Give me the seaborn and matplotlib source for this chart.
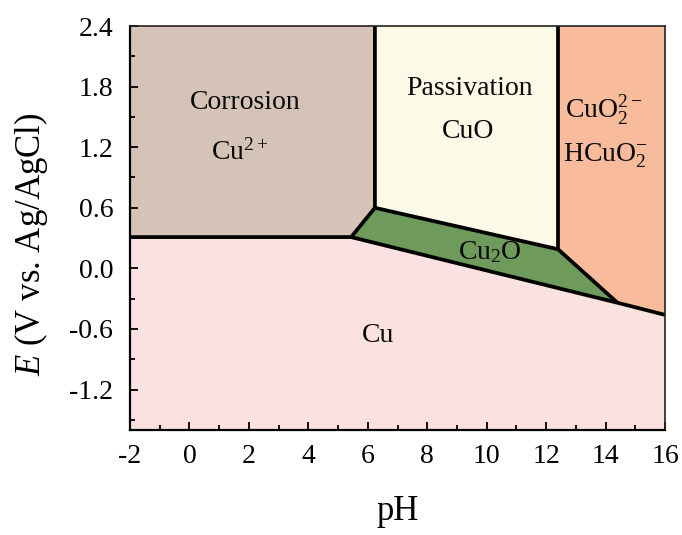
import numpy as np
import pandas as pd
import matplotlib
matplotlib.use("Agg")
import matplotlib.pyplot as plt
import seaborn as sns

sns.set_theme(style="ticks")
plt.rcParams['font.family'] = ['Liberation Serif', 'DejaVu Serif']
plt.rcParams['mathtext.fontset'] = 'custom'
plt.rcParams['mathtext.rm'] = 'Liberation Serif'
plt.rcParams['mathtext.it'] = 'Liberation Serif:italic'
plt.rcParams['mathtext.bf'] = 'Liberation Serif:bold'

# ---- data (pH, E) ----
corrosion_ph = [-2, 6.24, 6.24, 5.44, -2]
corrosion_e = [2.4, 2.4, 0.60, 0.31, 0.31]

passivation_ph = [6.24, 12.4, 12.4, 6.24]
passivation_e = [2.4, 2.4, 0.19, 0.60]

cuo2_ph = [12.4, 16, 16, 14.4, 12.4]
cuo2_e = [2.4, 2.4, -0.46, -0.34, 0.19]

cu2o_ph = [5.44, 6.24, 12.4, 14.4]
cu2o_e = [0.31, 0.60, 0.19, -0.34]

cu_ph = [-2, 16, 16, 14.4, 5.44, -2]
cu_e = [-1.6, -1.6, -0.46, -0.34, 0.31, 0.31]

# boundary lines
line_cu_ph = [-2, 5.44, 14.4, 16]
line_cu_e = [0.31, 0.31, -0.34, -0.46]
line_left_ph = [6.24, 6.24, 5.44]
line_left_e = [2.4, 0.60, 0.31]
line_cu2o_ph = [6.24, 12.4, 14.4]
line_cu2o_e = [0.60, 0.19, -0.34]
line_right_ph = [12.4, 12.4]
line_right_e = [2.4, 0.19]

labels = ["Corrosion", r"Cu$^{2+}$", "Passivation", "CuO",
          r"CuO$_2^{2-}$", r"HCuO$_2^{-}$", r"Cu$_2$O", "Cu"]
label_ph = [1.87, 1.70, 9.41, 9.37, 13.95, 14.0, 10.11, 6.35]
label_e = [1.64, 1.15, 1.78, 1.36, 1.57, 1.12, 0.16, -0.66]

x_ticks = [-2, 0, 2, 4, 6, 8, 10, 12, 14, 16]
x_minor = [-1, 1, 3, 5, 7, 9, 11, 13, 15]
y_ticks = [-1.2, -0.6, 0.0, 0.6, 1.2, 1.8, 2.4]
y_ticklabels = ["-1.2", "-0.6", "0.0", "0.6", "1.2", "1.8", "2.4"]
y_minor = [-1.5, -0.9, -0.3, 0.3, 0.9, 1.5, 2.1]

colors = {
    "corrosion": "#D6C3B7",
    "passivation": "#FBFAE6",
    "cuo2": "#F8BC9C",
    "cu2o": "#6E9A5C",
    "cu": "#FCE1E1",
}

fig = plt.figure(figsize=(6.82, 5.35), dpi=100)
ax = fig.add_axes([130/682, 1-430/535, (665-130)/682, (430-26)/535])
ax.set_axisbelow(False)

ax.fill(cu_ph, cu_e, color=colors["cu"], lw=0, zorder=1)
ax.fill(corrosion_ph, corrosion_e, color=colors["corrosion"], lw=0, zorder=1)
ax.fill(passivation_ph, passivation_e, color=colors["passivation"], lw=0, zorder=1)
ax.fill(cuo2_ph, cuo2_e, color=colors["cuo2"], lw=0, zorder=1)
ax.fill(cu2o_ph, cu2o_e, color=colors["cu2o"], lw=0, zorder=1)

for xs, ys in [(line_cu_ph, line_cu_e), (line_left_ph, line_left_e),
               (line_cu2o_ph, line_cu2o_e), (line_right_ph, line_right_e)]:
    df = pd.DataFrame({"pH": xs, "E": ys})
    sns.lineplot(data=df, x="pH", y="E", sort=False, estimator=None,
                 color="black", linewidth=2.7, ax=ax, zorder=3,
                 solid_joinstyle="miter", solid_capstyle="butt")

for t, x, y in zip(labels, label_ph, label_e):
    ax.text(x, y, t, ha="center", va="center", fontsize=20, color="#0a0a0a", zorder=4)

ax.set_xlim(-2, 16)
ax.set_ylim(-1.6, 2.4)
ax.set_xticks(x_ticks)
ax.set_xticklabels([str(v) for v in x_ticks])
ax.set_xticks(x_minor, minor=True)
ax.set_yticks(y_ticks)
ax.set_yticklabels(y_ticklabels)
ax.set_yticks(y_minor, minor=True)

ax.tick_params(which="both", direction="in", top=False, right=False,
               colors="black", labelcolor="black")
ax.tick_params(which="major", length=6, width=1.3, labelsize=20)
ax.tick_params(which="minor", length=3.5, width=1.3)
ax.tick_params(axis="x", which="major", pad=10)
ax.tick_params(axis="y", which="major", pad=12)

for s in ["left", "bottom"]:
    ax.spines[s].set_linewidth(1.6)
    ax.spines[s].set_color("black")
for s in ["top", "right"]:
    ax.spines[s].set_linewidth(1.2)
    ax.spines[s].set_color("#222222")
for s in ax.spines.values():
    s.set_zorder(5)

ax.set_xlabel("pH", fontsize=25, labelpad=19, color="black")
ax.set_ylabel(r"$E$ (V vs. Ag/AgCl)", fontsize=25, color="black")
ax.yaxis.set_label_coords(-0.15, 0.46)

fig.savefig("out.png", dpi=100)
